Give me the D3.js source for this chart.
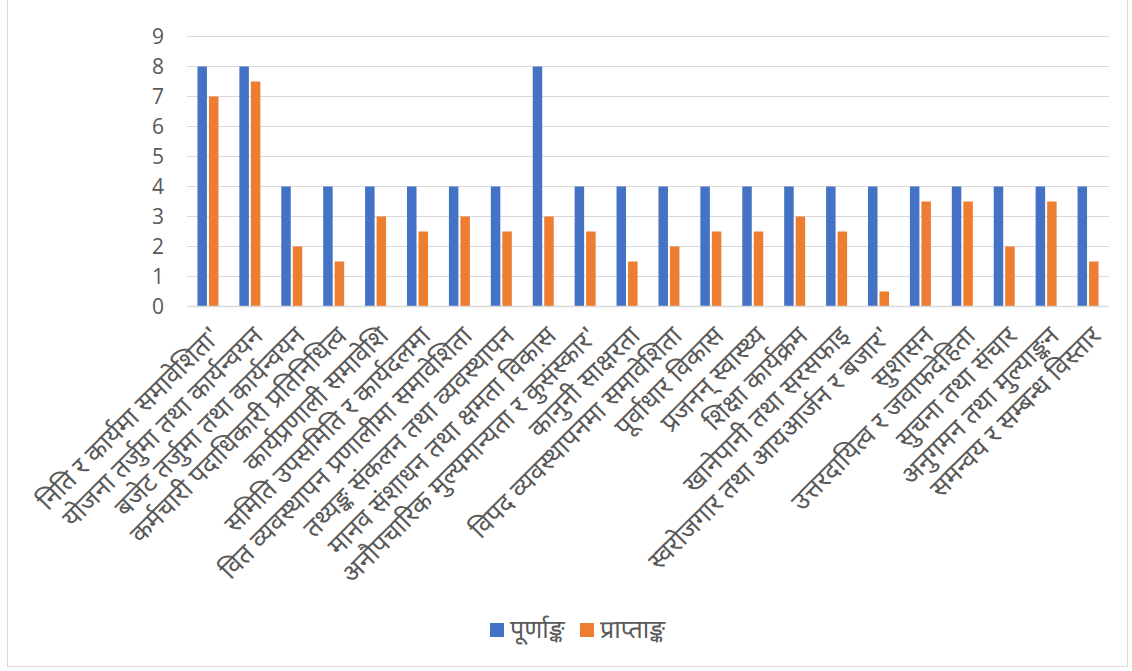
<!DOCTYPE html>
<html>
<head>
<meta charset="utf-8">
<script src="https://cdn.jsdelivr.net/npm/d3@7"></script>
<style>
  body { margin: 0; background: #fff; }
  svg text { font-family: "Noto Sans Devanagari", "Lohit Devanagari", "Noto Sans", "Open Sans", sans-serif; fill: #595959; }
</style>
</head>
<body>
<svg id="chart"></svg>
<script>
var categories = [
  "निति र कार्यमा समावेशिता'",
  "योजना तर्जुमा तथा कार्यन्वयन",
  "बजेट तर्जुमा तथा कार्यन्वयन",
  "कर्मचारी पदाधिकारी प्रतिनिधित्व",
  "कार्यप्रणाली समावेशि",
  "समिति उपसमिति र कार्यदलमा",
  "वित व्यवस्थापन प्रणालीमा समावेशिता",
  "तथ्यङ्क संकलन तथा व्यवस्थापन",
  "मानव संशाधन तथा क्षमता विकास",
  "अनौपचारिक मुल्यमान्यता र कुसंस्कार'",
  "कानुनी साक्षरता",
  "विपद व्यवस्थापनमा समावेशिता",
  "पूर्वाधार विकास",
  "प्रजनन् स्वास्थ्य",
  "शिक्षा कार्यक्रम",
  "खानेपानी तथा सरसफाइ",
  "स्वरोजगार तथा आयआर्जन र बजार'",
  "सुशासन",
  "उत्तरदायित्व र जवाफदेहिता",
  "सुचना तथा संचार",
  "अनुगमन तथा मुल्याङ्कन",
  "समन्वय र सम्बन्ध विस्तार"
];
var seriesNames = ["पूर्णाङ्क", "प्राप्ताङ्क"];
var fullMarks = [8, 8, 4, 4, 4, 4, 4, 4, 8, 4, 4, 4, 4, 4, 4, 4, 4, 4, 4, 4, 4, 4];
var obtained = [7, 7.5, 2, 1.5, 3, 2.5, 3, 2.5, 3, 2.5, 1.5, 2, 2.5, 2.5, 3, 2.5, 0.5, 3.5, 3.5, 2, 3.5, 1.5];
var yTicks = [0, 1, 2, 3, 4, 5, 6, 7, 8, 9];
var colors = ["#4472c4", "#ed7d31"];

var W = 1132, H = 671;
var svg = d3.select("#chart").attr("width", W).attr("height", H);

// outer chart border
svg.append("rect")
  .attr("x", 7.5).attr("y", -1)
  .attr("width", 1120).attr("height", 667.5)
  .style("fill", "none")
  .style("stroke", "#d9d9d9")
  .style("stroke-width", 1);

var x0 = d3.scaleBand().domain(d3.range(categories.length)).range([187, 1109]).paddingInner(0).paddingOuter(0);
var y = d3.scaleLinear().domain([0, 9]).range([306.5, 36.5]);

var barW = 9.5, barGap = 2;

// gridlines
svg.append("g").selectAll("line")
  .data(yTicks.filter(function(d) { return d > 0; }))
  .enter().append("line")
  .attr("x1", 187).attr("x2", 1109)
  .attr("y1", function(d) { return y(d); })
  .attr("y2", function(d) { return y(d); })
  .style("stroke", "#d9d9d9")
  .style("stroke-width", 1);

// y tick labels
svg.append("g").selectAll("text")
  .data(yTicks)
  .enter().append("text")
  .attr("x", 164)
  .attr("y", function(d) { return y(d); })
  .attr("dy", "0.36em")
  .style("text-anchor", "end")
  .style("font-size", "21px")
  .style("font-family", "'Open Sans', sans-serif")
  .text(function(d) { return d; });

var groups = svg.append("g").selectAll("g")
  .data(categories)
  .enter().append("g")
  .attr("transform", function(d, i) { return "translate(" + (x0(i) + x0.bandwidth() / 2) + ",0)"; });

groups.append("rect")
  .attr("x", -barW - barGap / 2)
  .attr("width", barW)
  .attr("y", function(d, i) { return y(fullMarks[i]); })
  .attr("height", function(d, i) { return y(0) - y(fullMarks[i]); })
  .style("fill", colors[0]);

groups.append("rect")
  .attr("x", barGap / 2)
  .attr("width", barW)
  .attr("y", function(d, i) { return y(obtained[i]); })
  .attr("height", function(d, i) { return y(0) - y(obtained[i]); })
  .style("fill", colors[1]);

// axis baseline
svg.append("line")
  .attr("x1", 187).attr("x2", 1109)
  .attr("y1", y(0)).attr("y2", y(0))
  .style("stroke", "#d9d9d9")
  .style("stroke-width", 1.5);

// category labels
groups.append("text")
  .attr("transform", "translate(8,331) rotate(-45)")
  .attr("dy", "0.35em")
  .style("text-anchor", "end")
  .style("font-size", "26px")
  .text(function(d) { return d; });

// legend
var legend = svg.append("g").selectAll("g")
  .data(seriesNames)
  .enter().append("g")
  .attr("transform", function(d, i) { return "translate(" + (490 + i * 90) + ",630)"; });

legend.append("rect")
  .attr("x", 0).attr("y", -7)
  .attr("width", 14).attr("height", 14)
  .style("fill", function(d, i) { return colors[i]; });

legend.append("text")
  .attr("x", 20)
  .attr("y", 0)
  .attr("dy", "0.3em")
  .style("font-size", "25px")
  .text(function(d) { return d; });
</script>
</body>
</html>
